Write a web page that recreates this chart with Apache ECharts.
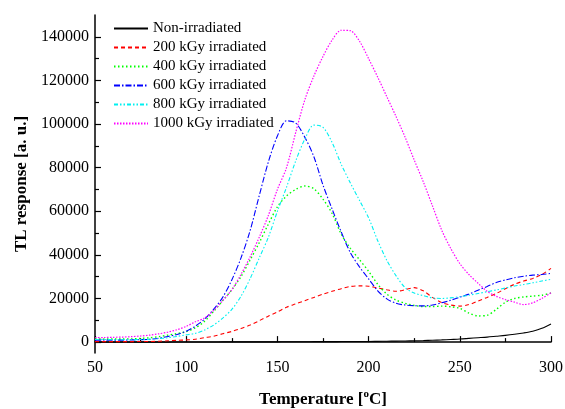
<!DOCTYPE html>
<html>
<head>
<meta charset="utf-8">
<script src="https://cdn.jsdelivr.net/npm/echarts@6/dist/echarts.min.js"></script>
<style>html,body{margin:0;padding:0;background:#fff;}#c{width:565px;height:409px;}</style>
</head>
<body>
<div id="c"></div>
<script>
const temps = [50,55,60,65,70,75,80,85,90,95,100,105,110,115,120,125,130,135,140,145,150,155,160,165,170,175,180,185,190,195,200,205,210,215,220,225,230,235,240,245,250,255,260,265,270,275,280,285,290,295,300];
const nonIrr = [0,0,0,0,0,0,0,0,0,50,50,50,50,50,100,100,100,100,100,100,100,150,150,150,200,200,200,250,250,300,300,350,400,450,500,600,700,850,1000,1200,1400,1700,2000,2300,2700,3100,3600,4200,5000,6300,8300];
const kGy200 = [200,200,200,200,200,300,300,400,600,800,1000,1300,2000,2700,3800,4900,6200,7800,9800,11900,13800,16000,17500,19000,20500,22000,23300,24500,25500,25800,25600,24800,24000,23300,24000,25000,23500,20500,18200,17000,16500,17200,18800,20500,22300,24500,26500,28000,29200,31000,33800];
const kGy400 = [1400,1400,1400,1400,1500,1700,2000,2500,3200,3900,4800,6500,9500,14000,19000,24000,30000,37600,45500,54000,62000,67000,70000,71600,70300,65500,59000,49500,43000,37800,32500,26500,22000,19300,17800,16800,16300,16300,16500,16200,15500,13300,12000,12300,15000,18300,20000,20700,21100,21500,22500];
const kGy600 = [900,900,900,900,1000,1100,1300,1800,2600,3500,5000,7300,10500,15000,20500,28500,38500,51000,67000,82500,94500,101500,100500,94000,85000,72000,61000,50500,41000,34500,29000,23500,19800,17800,17000,16700,16600,17000,18000,19200,20600,22000,23800,25500,27300,28500,29500,30200,30700,31000,31500];
const kGy800 = [1200,1200,1100,1100,1100,1200,1300,1600,2000,2600,3300,4000,5500,7800,11000,15000,21000,29000,38500,48000,60000,71000,83000,93000,99500,98500,91500,81500,73000,65000,57000,46500,37500,30500,25000,22500,21300,20300,20000,20300,20800,21500,22300,23100,23900,24800,25700,26400,27200,28000,28800];
const kGy1000 = [2000,2100,2200,2300,2500,2800,3200,3800,4600,5700,7200,9300,11000,14500,19000,24000,31000,39000,48000,58000,70000,80000,96000,111000,122000,131000,138500,143000,142800,138000,130000,121500,112500,103500,94000,83500,73500,62500,51500,43000,36000,31000,27000,23300,21000,19500,18300,17200,18000,20000,22600];
const seriesNames = ['Non-irradiated','200 kGy irradiated','400 kGy irradiated','600 kGy irradiated','800 kGy irradiated','1000 kGy irradiated'];
const yMajor = [0,20000,40000,60000,80000,100000,120000,140000];
const yMinor = [10000,30000,50000,70000,90000,110000,130000];

const styles = [
  {color:'#000000', type:'solid', w:1.1},
  {color:'#ff0000', type:[4,3], w:1.1},
  {color:'#00ff00', type:[1.5,2.5], w:1.4},
  {color:'#0000ff', type:[6,2,1.5,2], w:1.1},
  {color:'#00f0f0', type:[4,2,1.5,2,1.5,2], w:1.1},
  {color:'#ff00ff', type:[1.5,1.5], w:1.2}
];
const dataSets = [nonIrr,kGy200,kGy400,kGy600,kGy800,kGy1000];
const font = '"Liberation Serif", "Times New Roman", serif';

const chart = echarts.init(document.getElementById('c'), null, {renderer:'canvas'});
chart.setOption({
  animation:false,
  backgroundColor:'#fff',
  textStyle:{fontFamily:font},
  grid:{left:95, right:14, top:15, bottom:56, containLabel:false, outerBoundsMode:'none'},
  legend:{
    left:108, top:16, orient:'vertical', itemWidth:34, itemHeight:12, itemGap:4, itemTextGap:5,
    textStyle:{fontFamily:font, fontSize:15, color:'#000'},
    itemStyle:{opacity:0},
    data:seriesNames
  },
  xAxis:{
    type:'value', min:50, max:300, interval:50,
    axisLine:{lineStyle:{color:'#000', width:1.5}},
    axisTick:{inside:true, length:6, lineStyle:{color:'#000', width:1.2}},
    minorTick:{show:true, splitNumber:2, length:4, lineStyle:{color:'#000', width:1.2}},
    axisLabel:{fontFamily:font, fontSize:16, color:'#000', margin:7},
    splitLine:{show:false},
    name:'{a|Temperature [}{s|o}{a|C]}', nameLocation:'middle', nameGap:36,
    nameTextStyle:{rich:{
      a:{fontFamily:font, fontSize:17, fontWeight:'bold', color:'#000', lineHeight:22},
      s:{fontFamily:font, fontSize:11, fontWeight:'bold', color:'#000', verticalAlign:'top', lineHeight:12}
    }}
  },
  yAxis:[{
    type:'value', min:-5000, max:150000,
    axisLine:{lineStyle:{color:'#000', width:1.5}},
    axisTick:{inside:true, length:6, customValues:yMajor, lineStyle:{color:'#000', width:1.2}},
    axisLabel:{fontFamily:font, fontSize:16, color:'#000', margin:6, customValues:yMajor, formatter:(v)=>String(v)},
    splitLine:{show:false},
    name:'TL response [a. u.]', nameLocation:'middle', nameGap:64,
    nameTextStyle:{fontFamily:font, fontSize:17, fontWeight:'bold', color:'#000'}
  },{
    type:'value', min:-5000, max:150000, position:'left', offset:0,
    axisLine:{show:false},
    axisTick:{inside:true, length:4, customValues:yMinor, lineStyle:{color:'#000', width:1.2}},
    axisLabel:{show:false},
    splitLine:{show:false}
  }],
  series: seriesNames.map((n,i)=>({
    name:n, type:'line', xAxisIndex:0, yAxisIndex:0,
    data: temps.map((t,k)=>[t, dataSets[i][k]]),
    symbol:'none', smooth:0.3,
    lineStyle:{color:styles[i].color, type:styles[i].type, width:styles[i].w},
    itemStyle:{color:styles[i].color}
  }))
});
</script>
</body>
</html>
